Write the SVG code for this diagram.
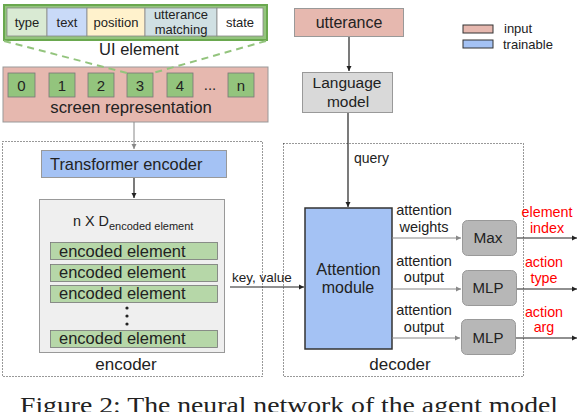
<svg xmlns="http://www.w3.org/2000/svg" width="578" height="412" viewBox="0 0 578 412">
<style>
text{font-family:"Liberation Sans",Arial,sans-serif;fill:#222;}
.c{text-anchor:middle;}
.red{fill:#ff0000;}
.box{stroke:#999;stroke-width:1;}
.dot{fill:none;stroke:#333;stroke-width:1;stroke-dasharray:1,2;}
.gline{stroke:#888;stroke-width:1;fill:none;}
.bline{stroke:#222;stroke-width:1.2;fill:none;}
.cell{font-size:13px;}
.lab{font-size:14.5px;}
.ee{font-size:16.5px;}
</style>
<defs>
<marker id="ah" markerWidth="6" markerHeight="6" refX="5" refY="3" orient="auto" markerUnits="userSpaceOnUse"><path d="M0,0.5 L5,3 L0,5.5 z" fill="#222"/></marker>
<marker id="ahg" markerWidth="6" markerHeight="6" refX="5" refY="3" orient="auto" markerUnits="userSpaceOnUse"><path d="M0,0.5 L5,3 L0,5.5 z" fill="#888"/></marker>
</defs>
<rect width="578" height="412" fill="#fff"/>

<!-- containers -->
<g id="encoder">
<rect class="dot" x="2.5" y="141.5" width="260" height="235"/>
<text class="c" x="126" y="370" font-size="17">encoder</text>
</g>
<g id="decoder">
<rect class="dot" x="283.5" y="143.5" width="240" height="233"/>
<text class="c" x="400" y="370" font-size="17">decoder</text>
</g>

<!-- UI element -->
<g id="ui-element">
<rect x="4" y="5" width="263" height="35" fill="#93c47d" stroke="#6aa84f" stroke-width="2"/>
<rect x="7" y="8" width="40" height="28" fill="#d9ead3" stroke="#888" stroke-width="0.8"/>
<rect x="47" y="8" width="40" height="28" fill="#c9daf8" stroke="#888" stroke-width="0.8"/>
<rect x="87" y="8" width="58" height="28" fill="#fff2cc" stroke="#888" stroke-width="0.8"/>
<rect x="145" y="8" width="72" height="28" fill="#d0e0e3" stroke="#888" stroke-width="0.8"/>
<rect x="217" y="8" width="46" height="28" fill="#ffffff" stroke="#888" stroke-width="0.8"/>
<text class="c cell" x="27" y="27">type</text>
<text class="c cell" x="67" y="27">text</text>
<text class="c cell" x="116" y="27">position</text>
<text class="c cell" x="181" y="19">utterance</text>
<text class="c cell" x="181" y="34">matching</text>
<text class="c cell" x="240" y="27">state</text>
<text class="c" x="139" y="55" font-size="16.5">UI element</text>
</g>

<!-- screen representation -->
<g id="screen-representation">
<rect class="box" x="3" y="67" width="265" height="55" fill="#e6b8af"/>
<rect x="8" y="73" width="27" height="24" fill="#93c47d" stroke="#777" stroke-width="0.8"/>
<rect x="49" y="73" width="26" height="24" fill="#93c47d" stroke="#777" stroke-width="0.8"/>
<rect x="88" y="73" width="26" height="24" fill="#93c47d" stroke="#777" stroke-width="0.8"/>
<rect x="127" y="73" width="26" height="24" fill="#93c47d" stroke="#777" stroke-width="0.8"/>
<rect x="167" y="73" width="26" height="24" fill="#93c47d" stroke="#777" stroke-width="0.8"/>
<rect x="228" y="73" width="26" height="24" fill="#93c47d" stroke="#777" stroke-width="0.8"/>
<text class="c" x="21.5" y="91" font-size="15">0</text>
<text class="c" x="62" y="91" font-size="15">1</text>
<text class="c" x="101" y="91" font-size="15">2</text>
<text class="c" x="140" y="91" font-size="15">3</text>
<text class="c" x="180" y="91" font-size="15">4</text>
<text class="c" x="210" y="90" font-size="15">...</text>
<text class="c" x="241" y="91" font-size="15">n</text>
<text class="c" x="131" y="113" font-size="16.7">screen representation</text>
</g>

<!-- transformer encoder -->
<g id="transformer-encoder">
<rect class="box" x="41.5" y="150.5" width="185" height="27" fill="#a4c2f4"/>
<text x="50" y="170" font-size="16.4">Transformer encoder</text>
</g>

<!-- encoded elements -->
<g id="encoded-elements">
<rect x="39.5" y="199.5" width="185" height="153" fill="#efefef" stroke="#999" stroke-width="1"/>
<text x="73" y="226" font-size="14.4">n X D<tspan font-size="11" dy="4">encoded element</tspan></text>
<rect x="50.5" y="242.5" width="167" height="17" fill="#b6d7a8" stroke="#777" stroke-width="0.8"/>
<rect x="50.5" y="264.5" width="167" height="17" fill="#b6d7a8" stroke="#777" stroke-width="0.8"/>
<rect x="50.5" y="285.5" width="167" height="17" fill="#b6d7a8" stroke="#777" stroke-width="0.8"/>
<rect x="50.5" y="330.5" width="167" height="17" fill="#b6d7a8" stroke="#777" stroke-width="0.8"/>
<text class="ee" x="59" y="257">encoded element</text>
<text class="ee" x="59" y="278">encoded element</text>
<text class="ee" x="59" y="299">encoded element</text>
<text class="ee" x="59" y="344">encoded element</text>
<circle cx="127" cy="308" r="1.6" fill="#222"/>
<circle cx="127" cy="316" r="1.6" fill="#222"/>
<circle cx="127" cy="324" r="1.6" fill="#222"/>
</g>

<!-- utterance -->
<g id="utterance">
<rect class="box" x="294.5" y="8.5" width="109" height="28" fill="#e6b8af"/>
<text class="c" x="349" y="28" font-size="16">utterance</text>
</g>

<!-- language model -->
<g id="language-model">
<rect class="box" x="302.5" y="72.5" width="90" height="40" fill="#d9d9d9"/>
<text class="c" x="347" y="88" font-size="15.5">Language</text>
<text class="c" x="348" y="107" font-size="15.5">model</text>
</g>

<!-- attention module -->
<g id="attention-module">
<rect x="305" y="208" width="87" height="141" fill="#a4c2f4" stroke="#333" stroke-width="1.5"/>
<text class="c" x="348.5" y="275" font-size="16.3">Attention</text>
<text class="c" x="348" y="293" font-size="16">module</text>
</g>

<!-- Max / MLP -->
<g id="max">
<rect x="462.5" y="220.5" width="54" height="35" rx="5" fill="#b7b7b7" stroke="#999"/>
<text class="c" x="488" y="243" font-size="15.4">Max</text>
</g>
<g id="mlp-type">
<rect x="462.5" y="270.5" width="54" height="35" rx="5" fill="#b7b7b7" stroke="#999"/>
<text class="c" x="488" y="293" font-size="15">MLP</text>
</g>
<g id="mlp-arg">
<rect x="461.5" y="319.5" width="54" height="35" rx="5" fill="#b7b7b7" stroke="#999"/>
<text class="c" x="488" y="343" font-size="15">MLP</text>
</g>

<!-- legend -->
<g id="legend">
<rect x="463" y="25" width="30" height="8" fill="#e6b8af" stroke="#333" stroke-width="1"/>
<text x="504" y="33" font-size="13">input</text>
<rect x="463" y="40" width="30" height="8" fill="#a4c2f4" stroke="#333" stroke-width="1"/>
<text x="503" y="49" font-size="13">trainable</text>
</g>

<!-- connectors -->
<g id="connectors">
<path d="M4,41 L127,73" stroke="#93c47d" stroke-width="2" stroke-dasharray="7,5" fill="none"/>
<path d="M266,41 L153,73" stroke="#93c47d" stroke-width="2" stroke-dasharray="7,5" fill="none"/>
<path class="gline" d="M134,122 V149" marker-end="url(#ahg)"/>
<path class="bline" d="M134,178 V198" marker-end="url(#ah)"/>
<path class="bline" d="M349,37 V71" marker-end="url(#ah)"/>
<path class="bline" d="M348,113 V207" marker-end="url(#ah)"/>
<path class="bline" d="M230,287 H304" marker-end="url(#ah)"/>
<path class="gline" d="M392,238 H461" marker-end="url(#ahg)"/>
<path class="gline" d="M392,289 H461" marker-end="url(#ahg)"/>
<path class="gline" d="M392,338 H460" marker-end="url(#ahg)"/>
<path class="bline" d="M517,238 H577" marker-end="url(#ah)"/>
<path class="bline" d="M517,289 H577" marker-end="url(#ah)"/>
<path class="bline" d="M516,338 H577" marker-end="url(#ah)"/>
</g>

<!-- connector labels -->
<g id="labels">
<text x="354" y="163" font-size="14">query</text>
<text x="232" y="282" font-size="13.5">key, value</text>
<text class="c lab" x="424" y="215">attention</text>
<text class="c lab" x="424" y="232">weights</text>
<text class="c lab" x="424" y="266">attention</text>
<text class="c lab" x="424" y="282">output</text>
<text class="c lab" x="424" y="315">attention</text>
<text class="c lab" x="424" y="332">output</text>
<text class="c red" x="547" y="217" font-size="14.3">element</text>
<text class="c red" x="547" y="233" font-size="14.3">index</text>
<text class="c red" x="544" y="267" font-size="14.3">action</text>
<text class="c red" x="544" y="283" font-size="14.3">type</text>
<text class="c red" x="544" y="317" font-size="14.3">action</text>
<text class="c red" x="544" y="332" font-size="14.3">arg</text>
</g>

<text x="20" y="413" font-size="24" textLength="538" lengthAdjust="spacingAndGlyphs" style="font-family:'Liberation Serif','Times New Roman',serif">Figure 2: The neural network of the agent model</text>
</svg>
